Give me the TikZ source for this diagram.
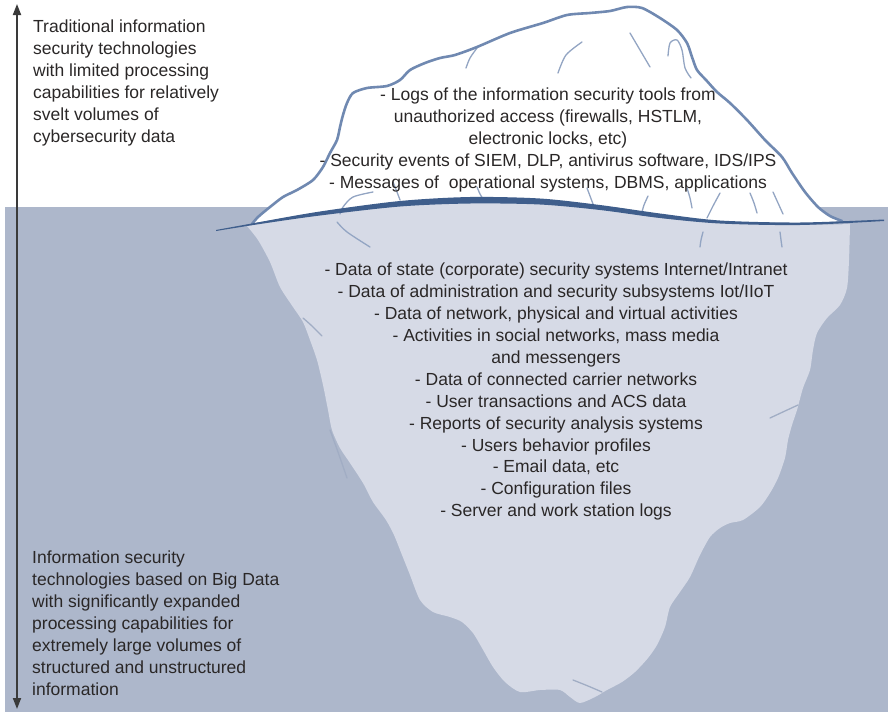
\documentclass[tikz,border=0pt]{standalone}
\usepackage{fontspec}
\setmainfont{Liberation Sans}
\usetikzlibrary{arrows.meta}
\definecolor{water}{HTML}{ADB7CB}
\definecolor{icedeep}{HTML}{D6DAE6}
\definecolor{iceline}{HTML}{7089B1}
\definecolor{crack}{HTML}{93A5C3}
\definecolor{deepcrack}{HTML}{A1ADC4}
\definecolor{sealine}{HTML}{3F5E8C}
\definecolor{ink}{HTML}{2A2727}
\definecolor{axiscol}{HTML}{3A3A3A}

\begin{document}
\begin{tikzpicture}[x=1pt,y=-1pt,
  txt/.style={inner sep=0pt, text=ink, font=\fontsize{17.5}{21.9}\selectfont},
  crackline/.style={draw=crack, line width=1.3pt, line cap=round, line join=round},
  deepline/.style={draw=deepcrack, line width=1.3pt, line cap=round, line join=round},
  rim/.style={draw=iceline, line width=2.6pt, line cap=round, line join=round},
  scale arrow/.style={draw=axiscol, line width=1.8pt,
    {Triangle[length=11pt,width=8pt]}-{Triangle[length=11pt,width=8pt]}}]

\useasboundingbox (0,0) rectangle (888,712);

% sea
\fill[water] (5,207) rectangle (888,712);

% submerged part of the iceberg
\fill[icedeep] plot[smooth, tension=0.45] coordinates {
  (247,226) (258,240) (270,262) (280,287) (293,307) (303,322) (310,340)
  (317,360) (323,385) (328,410) (332,430) (340,448) (350,463) (363,483)
  (373,502) (386,520) (394,535) (402,555) (410,575) (420,600) (433,612)
  (450,617) (462,622) (473,633) (482,648) (493,667) (505,682) (520,692)
  (540,690) (560,690) (570,697) (580,703) (595,697) (607,690) (622,682)
  (635,672) (648,658) (657,645) (665,627) (670,607) (680,592) (690,577)
  (700,555) (710,537) (720,528) (730,523) (743,520) (760,507) (770,493)
  (778,478) (785,458) (788,440) (792,425) (797,410) (803,388) (810,370)
  (813,350) (817,333) (827,318) (840,305) (847,288) (849,260) (850,224)}
  -- plot[smooth] coordinates {(850,224) (800,225) (720,223) (660,218)
  (600,209) (540,203) (470,202) (400,205) (320,214) (260,223) (247,226)}
  -- cycle;

% part of the iceberg above the sea
\fill[white] plot[smooth, tension=0.45] coordinates {
  (252,224) (258,217) (270,207) (283,197) (297,190) (313,180) (323,167)
  (330,153) (337,140) (340,127) (343,115) (347,103) (353,93) (367,88)
  (387,86) (400,80) (410,70) (425,63) (440,58) (455,55) (477,47) (510,33)
  (543,23) (567,15) (590,13) (610,11) (627,7) (642,8) (660,18) (677,30)
  (687,43) (692,57) (697,70) (706,80) (717,92) (730,103) (747,120)
  (765,140) (782,157) (792,173) (805,192) (818,207) (830,216) (842,221)}
  -- plot[smooth] coordinates {(842,221) (800,223) (720,221) (660,214)
  (600,205) (540,199) (470,198) (400,202) (320,212) (260,222) (252,224)}
  -- cycle;

% cracks in the ice above the sea
\draw[crackline] plot[smooth] coordinates {(477,48) (470,58) (466,68)};
\draw[crackline] plot[smooth] coordinates {(558,73) (566,55) (582,42)};
\draw[crackline] plot[smooth] coordinates {(630,33) (640,50) (650,67)};
\draw[crackline] plot[smooth] coordinates {(668,56) (670,43) (677,40) (682,50) (685,68) (691,78)};
\draw[crackline] plot[smooth] coordinates {(373,192) (353,197) (343,207) (340,214)};
\draw[crackline] plot[smooth] coordinates {(393,182) (397,192) (400,200)};
\draw[crackline] plot[smooth] coordinates {(477,187) (480,194) (483,199)};
\draw[crackline] plot[smooth] coordinates {(587,188) (590,196) (593,204)};
\draw[crackline] plot[smooth] coordinates {(648,196) (644,205) (642,212)};
\draw[crackline] plot[smooth] coordinates {(687,188) (690,198) (692,208)};
\draw[crackline] plot[smooth] coordinates {(720,193) (713,206) (707,218)};
\draw[crackline] plot[smooth] coordinates {(750,193) (754,203) (757,213)};
\draw[crackline] plot[smooth] coordinates {(773,192) (778,203) (783,214)};

% cracks in the ice below the sea
\draw[crackline] plot[smooth] coordinates {(337,222) (347,232) (370,247)};
\draw[crackline] plot[smooth] coordinates {(703,232) (701,240) (700,247)};
\draw[crackline] plot[smooth] coordinates {(780,232) (781,240) (782,247)};
\draw[deepline] plot[smooth] coordinates {(303,318) (312,326) (322,336)};
\draw[deepline] plot[smooth] coordinates {(330,430) (338,452) (347,478)};
\draw[deepline] plot[smooth] coordinates {(770,418) (785,411) (798,405)};
\draw[deepline] plot[smooth] coordinates {(573,680) (588,686) (602,692)};

% rim of the iceberg above the sea
\draw[rim] plot[smooth, tension=0.45] coordinates {
  (252,224) (258,217) (270,207) (283,197) (297,190) (313,180) (323,167)
  (330,153) (337,140) (340,127) (343,115) (347,103) (353,93) (367,88)
  (387,86) (400,80) (410,70) (425,63) (440,58) (455,55) (477,47) (510,33)
  (543,23) (567,15) (590,13) (610,11) (627,7) (642,8) (660,18) (677,30)
  (687,43) (692,57) (697,70) (706,80) (717,92) (730,103) (747,120)
  (765,140) (782,157) (792,173) (805,192) (818,207) (830,216) (842,221)};

% surface of the sea
\fill[sealine] plot[smooth] coordinates {(216,230) (260,222) (320,211.5)
  (400,201) (470,197) (540,198.5) (600,205) (660,213.5) (720,220.5)
  (800,222.5) (884,219.5)}
  -- plot[smooth] coordinates {(884,221) (800,225) (720,223.5) (660,218)
  (600,210) (540,204.5) (470,203.5) (400,206.5) (320,215.5) (260,224)
  (216,231)} -- cycle;

% texts
\node[txt, anchor=north west, align=left] (upperNote) at (33,20)
  {Traditional information\\ security technologies\\ with limited processing\\
   capabilities for relatively\\ svelt volumes of\\ cybersecurity data};

\node[txt, anchor=north west, align=left] (lowerNote) at (32,551)
  {Information security\\ technologies based on Big Data\\ with significantly expanded\\
   processing capabilities for\\ extremely large volumes of\\
   structured and unstructured\\ information};

\node[txt, anchor=north, align=center] (tipList) at (548,88)
  {- Logs of the information security tools from\\
   unauthorized access (firewalls, HSTLM,\\ electronic locks, etc)\\
   - Security events of SIEM, DLP, antivirus software, IDS/IPS\\
   - Messages of\ \ operational systems, DBMS, applications};

\node[txt, anchor=north, align=center] (depthList) at (556,263)
  {- Data of state (corporate) security systems Internet/Intranet\\
   - Data of administration and security subsystems Iot/IIoT\\
   - Data of network, physical and virtual activities\\
   - Activities in social networks, mass media\\ and messengers\\
   - Data of connected carrier networks\\
   - User transactions and ACS data\\
   - Reports of security analysis systems\\
   - Users behavior profiles\\
   - Email data, etc\\
   - Configuration files\\
   - Server and work station logs};

% scale arrow
\coordinate (scaleTop) at (17,4);
\coordinate (scaleBottom) at (17,709);
\draw[scale arrow] (scaleTop) -- (scaleBottom);

\end{tikzpicture}
\end{document}
